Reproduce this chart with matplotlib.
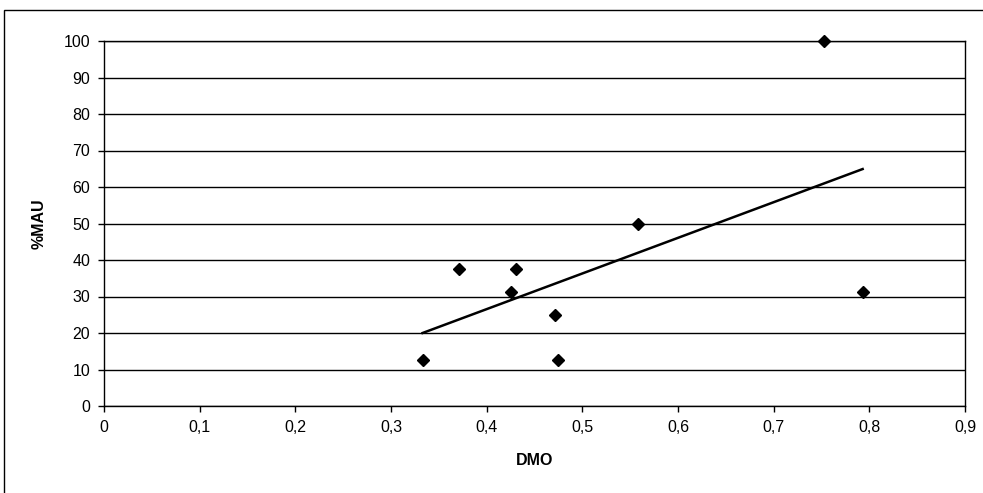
import numpy as np
import matplotlib
matplotlib.use("Agg")
import matplotlib.pyplot as plt
from matplotlib.patches import Rectangle
from matplotlib.ticker import FuncFormatter

plt.rcParams['font.family'] = ['Liberation Sans', 'DejaVu Sans']

# DMO vs %MAU observations
dmo = [0.333, 0.371, 0.425, 0.431, 0.471, 0.475, 0.558, 0.753, 0.793]
mau = [12.5, 37.5, 31.25, 37.5, 25.0, 12.5, 50.0, 100.0, 31.25]
x_ticks = [0, 0.1, 0.2, 0.3, 0.4, 0.5, 0.6, 0.7, 0.8, 0.9]
y_ticks = [0, 10, 20, 30, 40, 50, 60, 70, 80, 90, 100]

fig = plt.figure(figsize=(9.83, 4.93), dpi=100)
fig.patch.set_facecolor('white')

# chart border (right and bottom edges run past the canvas)
fig.add_artist(Rectangle((4 / 983, -10 / 493), 990 / 983, 493 / 493,
                         transform=fig.transFigure, fill=False,
                         edgecolor='black', linewidth=1.0))

ax = fig.add_axes([104 / 983, 1 - 406 / 493, 861 / 983, 365 / 493])
ax.set_xlim(0, 0.9)
ax.set_ylim(0, 100)

for y in y_ticks:
    ax.axhline(y, color='black', linewidth=1.0, zorder=1)

ax.plot(dmo, mau, linestyle='none', marker='D', markersize=6,
        color='black', zorder=3, clip_on=False)

# linear trend line over the data range
slope, intercept = np.polyfit(dmo, mau, 1)
xs = np.array([min(dmo), max(dmo)])
ax.plot(xs, slope * xs + intercept, color='black', linewidth=1.8, zorder=2)

ax.set_xticks(x_ticks)
ax.set_yticks(y_ticks)
comma = FuncFormatter(lambda v, p: ('%g' % v).replace('.', ','))
ax.xaxis.set_major_formatter(comma)
ax.tick_params(direction='out', length=4, width=1, labelsize=11.5, pad=6)

for s in ax.spines.values():
    s.set_linewidth(1.0)
    s.set_color('black')

ax.set_xlabel('DMO', fontsize=11.5, fontweight='bold', labelpad=13)
ax.set_ylabel('%MAU', fontsize=11.5, fontweight='bold', labelpad=12)

fig.savefig('out.png', dpi=100)
